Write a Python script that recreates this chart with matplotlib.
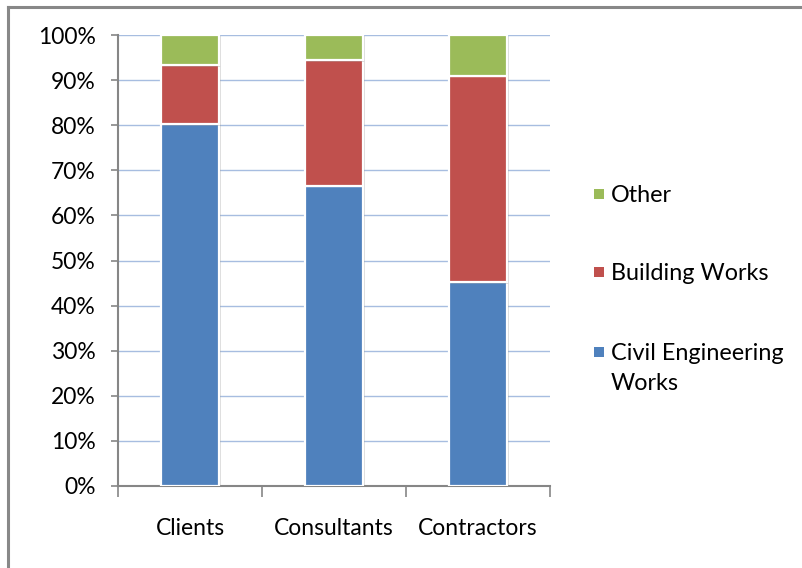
import matplotlib
matplotlib.use("Agg")
import matplotlib.pyplot as plt
from matplotlib.patches import Rectangle
from matplotlib.lines import Line2D
import matplotlib.patheffects as pe
import numpy as np

plt.rcParams['font.family'] = ['Lato', 'DejaVu Sans']

categories = ["Clients", "Consultants", "Contractors"]
series_names = ["Civil Engineering\nWorks", "Building Works", "Other"]
civil = [80.2, 66.6, 45.2]
building = [13.1, 27.8, 45.8]
other = [6.7, 5.6, 9.0]
colors = ["#4f81bd", "#c0504d", "#9bbb59"]
ytick_labels = ["0%", "10%", "20%", "30%", "40%", "50%", "60%", "70%", "80%", "90%", "100%"]

FS = 16.5
W, H = 803, 568
fig = plt.figure(figsize=(W / 100, H / 100), dpi=100)
ax = fig.add_axes([118 / W, (H - 486) / H, (550 - 118) / W, (486 - 35) / H])

x = np.arange(len(categories))
bottom = np.zeros(len(categories))
shadow = [pe.SimplePatchShadow(offset=(1.5, -1.0), shadow_rgbFace="#777777", alpha=0.25), pe.Normal()]
for vals, col in zip([civil, building, other], colors):
    ax.bar(x, vals, width=0.40, bottom=bottom, color=col, edgecolor="white",
           linewidth=1.6, zorder=3, path_effects=shadow)
    bottom += np.array(vals)

ax.set_xlim(-0.5, len(categories) - 0.5)
ax.set_ylim(0, 100)

ax.set_yticks(np.arange(0, 101, 10))
ax.set_yticklabels(ytick_labels)
ax.yaxis.grid(True, color="#a7bde0", linewidth=1.0, zorder=0)
ax.set_axisbelow(True)

ax.set_xticks(x)
ax.set_xticklabels(categories)
ax.set_xticks(np.arange(-0.5, len(categories), 1.0), minor=True)
ax.tick_params(axis="x", which="major", length=0, pad=23, labelsize=FS)
ax.tick_params(axis="x", which="minor", length=8, width=1.2, color="#868686", direction="out")
ax.tick_params(axis="y", which="major", length=5, width=1.2, color="#868686", direction="out",
               pad=11, labelsize=FS)

for s in ["top", "right"]:
    ax.spines[s].set_visible(False)
for s in ["left", "bottom"]:
    ax.spines[s].set_color("#868686")
    ax.spines[s].set_linewidth(1.5)

# legend drawn in figure space, top entry first
legend_rows = [(2, 194), (1, 272), (0, 352)]
for idx, yc in legend_rows:
    fig.patches.append(Rectangle(((594) / W, (H - yc - 5) / H), 10 / W, 10 / H,
                                 transform=fig.transFigure, facecolor=colors[idx],
                                 edgecolor="none"))
    fig.text(611 / W, (H - yc) / H + 0.0155, series_names[idx], fontsize=16.8,
             ha="left", va="top", linespacing=1.5, color="#000000")

# outer chart frame
fig.add_artist(Line2D([8 / W, 8 / W], [0, (H - 7) / H], transform=fig.transFigure,
                      color="#888888", linewidth=2.2))
fig.add_artist(Line2D([8 / W, 1.0], [(H - 7) / H, (H - 7) / H], transform=fig.transFigure,
                      color="#888888", linewidth=2.2))

fig.savefig("out.png", dpi=100)
